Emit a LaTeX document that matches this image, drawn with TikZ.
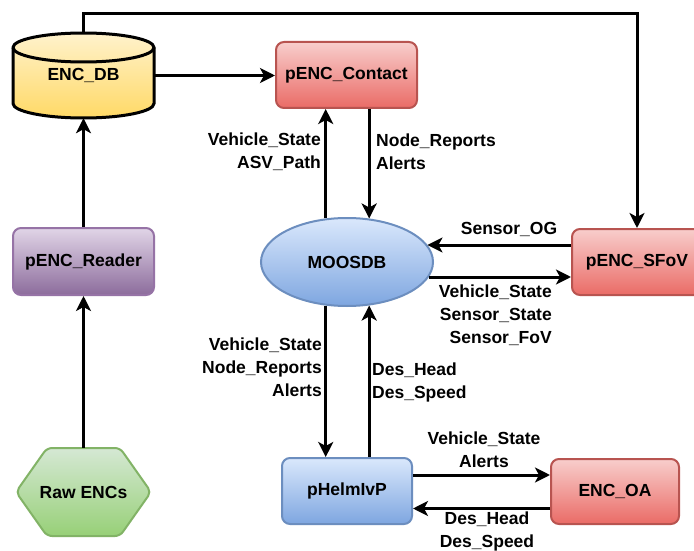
\documentclass[tikz,border=0pt]{standalone}
\usepackage{fontspec}
\setmainfont{Liberation Sans}
\usetikzlibrary{arrows.meta,shapes.geometric,calc}

\definecolor{redtop}{HTML}{F8CECC}\definecolor{redbot}{HTML}{EA6B66}\definecolor{redline}{HTML}{B85450}
\definecolor{bluetop}{HTML}{DAE8FC}\definecolor{bluebot}{HTML}{7EA6E0}\definecolor{blueline}{HTML}{6C8EBF}
\definecolor{purtop}{HTML}{E1D5E7}\definecolor{purbot}{HTML}{8C6C9C}\definecolor{purline}{HTML}{9673A6}
\definecolor{grntop}{HTML}{D5E8D4}\definecolor{grnbot}{HTML}{97D077}\definecolor{grnline}{HTML}{82B366}
\definecolor{yeltop}{HTML}{FFF2CC}\definecolor{yelbot}{HTML}{FFD966}

\tikzset{
  txt/.style={font=\fontsize{17.5}{23}\selectfont\bfseries, text=black},
  procbox/.style={txt, rectangle, rounded corners=8pt, line width=2pt, inner sep=0pt},
  redbox/.style={procbox, draw=redline, top color=redtop, bottom color=redbot},
  bluebox/.style={procbox, draw=blueline, top color=bluetop, bottom color=bluebot},
  purbox/.style={procbox, draw=purline, top color=purtop, bottom color=purbot},
  ghost/.style={txt, rectangle, inner sep=0pt},
  lbl/.style={txt, inner sep=0pt},
  arr/.style={line width=3pt, -{Stealth[length=15pt,width=15pt,inset=4pt]}},
  plain/.style={line width=3pt}
}

\begin{document}
\begin{tikzpicture}[x=1pt,y=-1pt]
\useasboundingbox (0,0) rectangle (694,551);
\fill[white] (0,0) rectangle (694,551);

% database cylinder
\path[top color=yeltop, bottom color=yelbot, draw=black, line width=3pt]
  (13,47.5) -- (13,103.5) arc[start angle=180, end angle=0, x radius=70.5, y radius=14.5]
  -- (154,47.5) arc[start angle=0, end angle=-180, x radius=70.5, y radius=14.5] -- cycle;
\draw[line width=3pt] (13,47.5) arc[start angle=180, end angle=0, x radius=70.5, y radius=14.5];
\node[ghost, minimum width=141pt, minimum height=85pt] (encdb) at (83.5,75.5) {ENC\_DB};

% raw chart source
\path[top color=grntop, bottom color=grnbot, draw=grnline, line width=2pt, rounded corners=5pt]
  (47,448) -- (120,448) -- (151,492) -- (120,536) -- (47,536) -- (16,492) -- cycle;
\node[ghost, minimum width=135pt, minimum height=88pt] (raw) at (83.5,492) {Raw ENCs};

% processes
\node[purbox, minimum width=141pt, minimum height=67pt] (reader) at (83.5,261.5) {pENC\_Reader};
\node[redbox, minimum width=141pt, minimum height=66pt] (contact) at (346.5,75) {pENC\_Contact};
\node[redbox, minimum width=130pt, minimum height=66pt] (sfov) at (637,262) {pENC\_SFoV};
\node[bluebox, minimum width=130pt, minimum height=66pt] (helm) at (347,491) {pHelmIvP};
\node[redbox, minimum width=128pt, minimum height=65pt] (encoa) at (615,491.5) {ENC\_OA};
\node[txt, ellipse, draw=blueline, line width=2pt, top color=bluetop, bottom color=bluebot,
      minimum width=172pt, minimum height=88pt, inner sep=0pt] (moos) at (347,262) {MOOSDB};

% connectors on the left column
\draw[arr] (raw.north) -- (reader.south);
\draw[arr] (reader.north) -- (encdb.south);
\draw[arr] (encdb.east) -- (encdb.east -| contact.west);
\coordinate (loop) at (637,14);
\draw[arr] (encdb.north) |- (loop) -- (sfov.north);

% MOOSDB <-> pENC_Contact
\coordinate (mtl) at (moos.116.2);
\coordinate (mtr) at (moos.63.8);
\coordinate (mbl) at (moos.-116.2);
\coordinate (mbr) at (moos.-63.8);
\draw[arr] (mtl) -- (mtl |- contact.south);
\draw[arr] (mtr |- contact.south) -- (mtr);

% MOOSDB <-> pHelmIvP
\draw[arr] (mbl) -- (mbl |- helm.north);
\draw[arr] (mbr |- helm.north) -- (mbr);

% MOOSDB <-> pENC_SFoV
\draw[arr] ([yshift=17pt]sfov.west) -- ([yshift=17pt]sfov.west -| moos.12.1);
\draw[arr] ([yshift=-15pt]sfov.west -| moos.-10.5) -- ([yshift=-15pt]sfov.west);

% pHelmIvP <-> ENC_OA
\draw[arr] ([yshift=16pt]helm.east) -- ([yshift=16pt]helm.east -| encoa.west);
\draw[arr] ([yshift=-17pt]encoa.west) -- ([yshift=-17pt]encoa.west -| helm.east);

% message labels
\node[lbl, align=right, anchor=east] (lA) at (321,151.5) {Vehicle\_State\\ASV\_Path};
\node[lbl, align=left, anchor=west] (lB) at (376,151.5) {Node\_Reports\\Alerts};
\node[lbl] (lC) at (509,229) {Sensor\_OG};
\node[lbl, align=right, anchor=east] (lD) at (552,315.5) {Vehicle\_State\\Sensor\_State\\Sensor\_FoV};
\node[lbl, align=right, anchor=east] (lE) at (322,367) {Vehicle\_State\\Node\_Reports\\Alerts};
\node[lbl, align=left, anchor=west] (lF) at (372,382) {Des\_Head\\Des\_Speed};
\node[lbl, align=center] (lG) at (484,450) {Vehicle\_State\\Alerts};
\node[lbl, align=center] (lH) at (487,531.5) {Des\_Head\\Des\_Speed};
\end{tikzpicture}
\end{document}
